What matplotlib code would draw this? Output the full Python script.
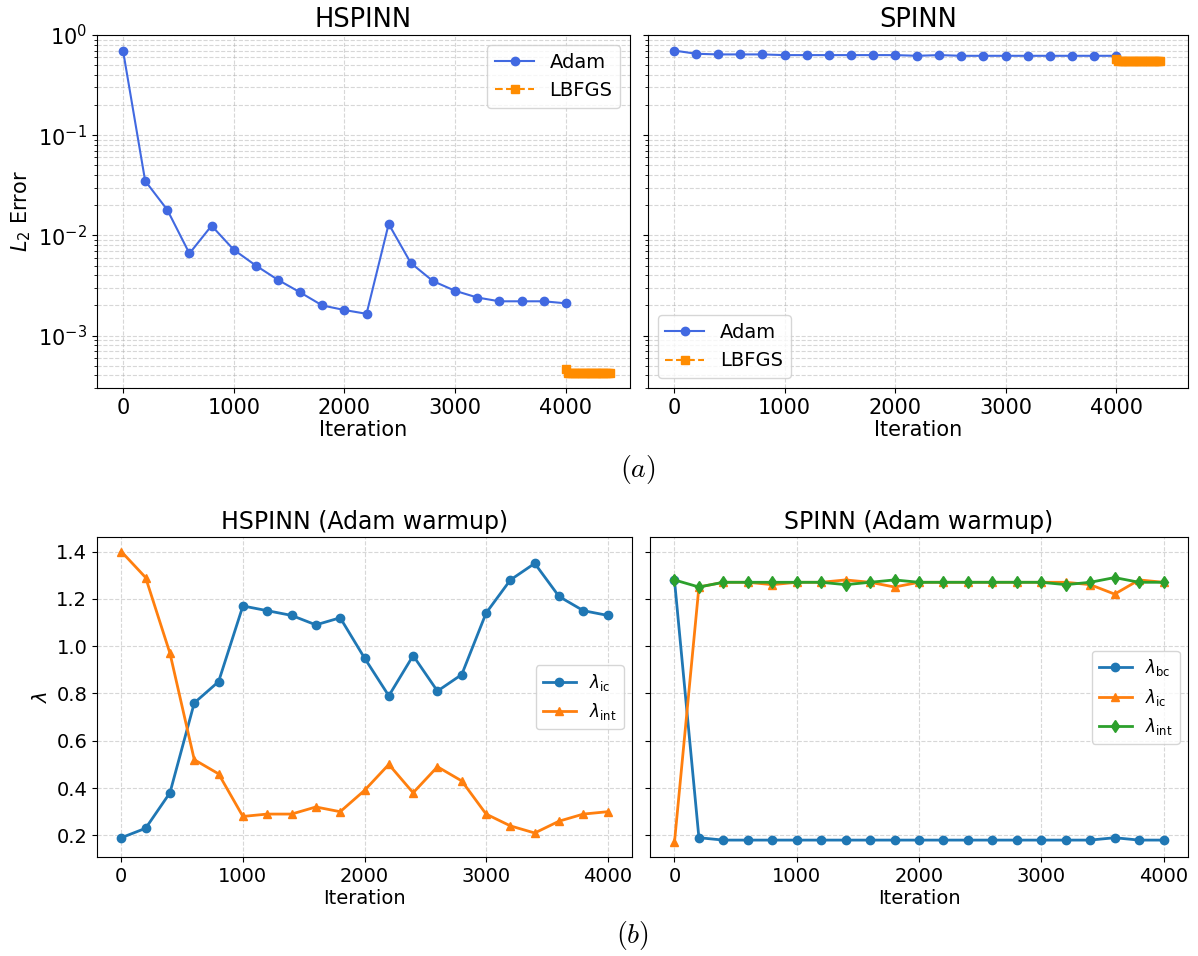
import matplotlib
matplotlib.use("Agg")
import matplotlib.pyplot as plt

plt.rcParams["mathtext.fontset"] = "dejavusans"

# ---- data ----
iters = [0, 200, 400, 600, 800, 1000, 1200, 1400, 1600, 1800, 2000,
         2200, 2400, 2600, 2800, 3000, 3200, 3400, 3600, 3800, 4000]
lbfgs_iters = [4000, 4020, 4040, 4060, 4080, 4100, 4120, 4140, 4160, 4180, 4200,
               4220, 4240, 4260, 4280, 4300, 4320, 4340, 4360, 4380, 4400]

hs_adam = [0.70, 0.035, 0.018, 0.0066, 0.0125, 0.0072, 0.0050, 0.0036, 0.0027,
           0.0020, 0.0018, 0.00165, 0.013, 0.0053, 0.0035, 0.0028, 0.0024,
           0.0022, 0.0022, 0.0022, 0.0021]
hs_lbfgs = [0.00046, 0.00042, 0.00042, 0.00042, 0.00042, 0.00042, 0.00042,
            0.00042, 0.00042, 0.00042, 0.00042, 0.00042, 0.00042, 0.00042,
            0.00042, 0.00042, 0.00042, 0.00042, 0.00042, 0.00042, 0.00042]

sp_adam = [0.70, 0.65, 0.64, 0.64, 0.64, 0.63, 0.63, 0.63, 0.63, 0.63, 0.63,
           0.62, 0.63, 0.62, 0.62, 0.62, 0.62, 0.62, 0.62, 0.62, 0.62]
sp_lbfgs = [0.58, 0.55, 0.55, 0.55, 0.55, 0.55, 0.55, 0.55, 0.55, 0.55, 0.55,
            0.55, 0.55, 0.55, 0.55, 0.55, 0.55, 0.55, 0.55, 0.55, 0.55]

hs_lam_ic = [0.19, 0.23, 0.38, 0.76, 0.85, 1.17, 1.15, 1.13, 1.09, 1.12, 0.95,
             0.79, 0.96, 0.81, 0.88, 1.14, 1.28, 1.35, 1.21, 1.15, 1.13]
hs_lam_int = [1.40, 1.29, 0.97, 0.52, 0.46, 0.28, 0.29, 0.29, 0.32, 0.30, 0.39,
              0.50, 0.38, 0.49, 0.43, 0.29, 0.24, 0.21, 0.26, 0.29, 0.30]

sp_lam_bc = [1.28, 0.19, 0.18, 0.18, 0.18, 0.18, 0.18, 0.18, 0.18, 0.18, 0.18,
             0.18, 0.18, 0.18, 0.18, 0.18, 0.18, 0.18, 0.19, 0.18, 0.18]
sp_lam_ic = [0.17, 1.25, 1.27, 1.27, 1.26, 1.27, 1.27, 1.28, 1.27, 1.25, 1.27,
             1.27, 1.27, 1.27, 1.27, 1.27, 1.27, 1.26, 1.22, 1.28, 1.27]
sp_lam_int = [1.28, 1.25, 1.27, 1.27, 1.27, 1.27, 1.27, 1.26, 1.27, 1.28, 1.27,
              1.27, 1.27, 1.27, 1.27, 1.27, 1.26, 1.27, 1.29, 1.27, 1.27]

xticks = [0, 1000, 2000, 3000, 4000]

W, H = 1198, 956
fig = plt.figure(figsize=(W / 100, H / 100), dpi=100)


def box(x0, y0, x1, y1):
    return [x0 / W, 1 - y1 / H, (x1 - x0) / W, (y1 - y0) / H]


# ---- (a) L2 error ----
ax1 = fig.add_axes(box(97, 35, 630, 388))
ax2 = fig.add_axes(box(648, 35, 1188, 388), sharey=ax1)

for ax, adam, lb, title, loc, xr in [
        (ax1, hs_adam, hs_lbfgs, "HSPINN", "upper right", 4580),
        (ax2, sp_adam, sp_lbfgs, "SPINN", "lower left", 4650)]:
    ax.plot(iters, adam, "-o", color="royalblue", markersize=6, label="Adam")
    ax.plot(lbfgs_iters, lb, "--s", color="darkorange", markersize=6, label="LBFGS")
    ax.set_yscale("log")
    ax.set_xlim(-235, xr)
    ax.set_xticks(xticks)
    ax.set_title(title, fontsize=18.5)
    ax.set_xlabel("Iteration", fontsize=15, labelpad=2)
    ax.grid(True, which="both", linestyle="--", alpha=0.5)
    ax.tick_params(labelsize=15)
    ax.legend(loc=loc, fontsize=14)

ax1.set_ylim(3e-4, 1)
ax1.set_ylabel("$L_2$ Error", fontsize=15)
ax2.tick_params(labelleft=False)

fig.text(638 / W, 1 - 470 / H, "$(a)$", fontsize=20, ha="center", va="center",
         math_fontfamily="cm")

# ---- (b) lambda weights ----
ax3 = fig.add_axes(box(97, 537, 632, 857))
ax4 = fig.add_axes(box(650, 537, 1188, 857), sharey=ax3)

ax3.plot(iters, hs_lam_ic, "-o", color="tab:blue", linewidth=2, label=r"$\lambda_{\mathrm{ic}}$")
ax3.plot(iters, hs_lam_int, "-^", color="tab:orange", linewidth=2, label=r"$\lambda_{\mathrm{int}}$")
ax3.set_title("HSPINN (Adam warmup)", fontsize=17)
ax3.set_ylabel(r"$\lambda$", fontsize=14)

ax4.plot(iters, sp_lam_bc, "-o", color="tab:blue", linewidth=2, label=r"$\lambda_{\mathrm{bc}}$")
ax4.plot(iters, sp_lam_ic, "-^", color="tab:orange", linewidth=2, label=r"$\lambda_{\mathrm{ic}}$")
ax4.plot(iters, sp_lam_int, "-d", color="tab:green", linewidth=2, label=r"$\lambda_{\mathrm{int}}$")
ax4.set_title("SPINN (Adam warmup)", fontsize=17)
ax4.tick_params(labelleft=False)

for ax in (ax3, ax4):
    ax.set_xticks(xticks)
    ax.set_xlabel("Iteration", fontsize=14, labelpad=2)
    ax.grid(True, linestyle="--", alpha=0.5)
    ax.tick_params(labelsize=14)
    ax.legend(loc="center right", fontsize=12)

fig.text(632 / W, 1 - 935 / H, "$(b)$", fontsize=20, ha="center", va="center",
         math_fontfamily="cm")

fig.savefig("out.png", dpi=100)
